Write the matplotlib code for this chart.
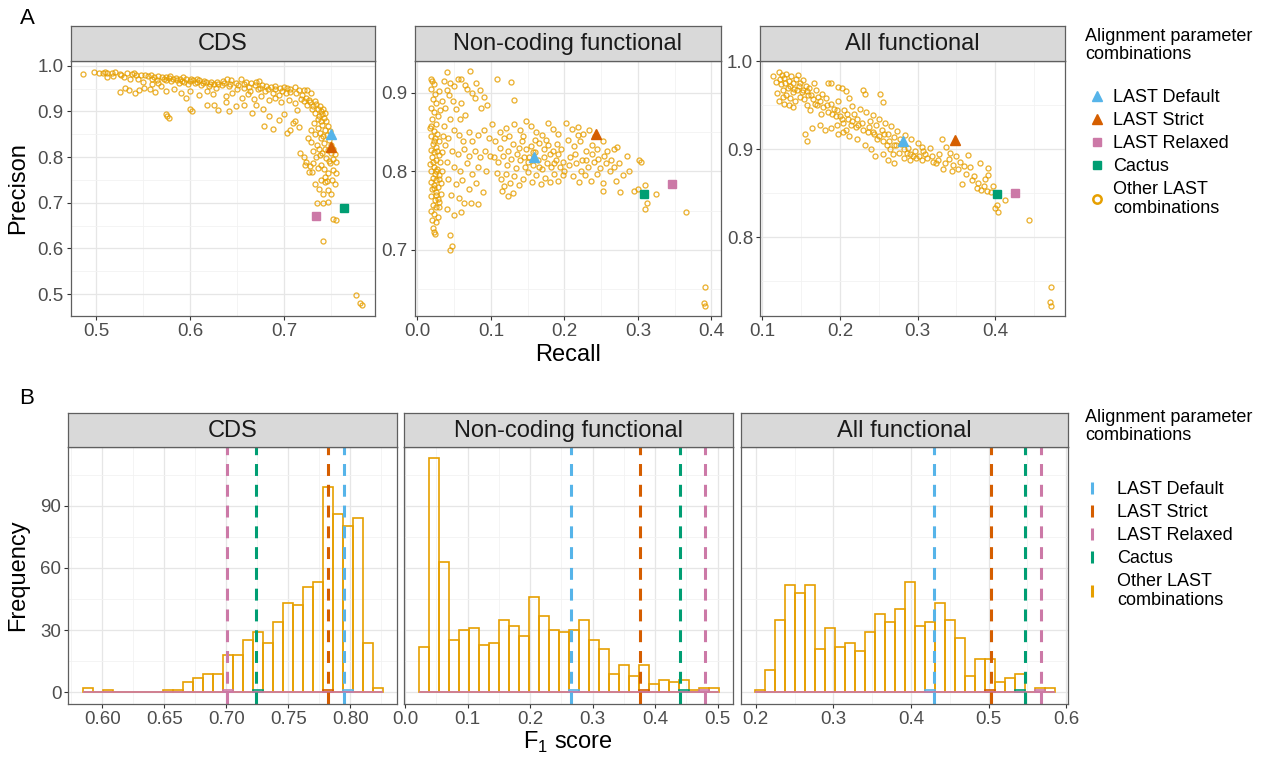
import matplotlib
matplotlib.use('Agg')
import matplotlib.pyplot as plt
from matplotlib.lines import Line2D
from matplotlib.ticker import MultipleLocator, FormatStrFormatter
import numpy as np

plt.rcParams['font.family'] = ['Liberation Sans', 'DejaVu Sans']
plt.rcParams['mathtext.fontset'] = 'custom'
plt.rcParams['mathtext.rm'] = 'Liberation Sans'

W, H = 1270, 759

# ---- data -------------------------------------------------------------
panel_names = ['CDS', 'Non-coding functional', 'All functional']
special_names = ['LAST Default', 'LAST Strict', 'LAST Relaxed', 'Cactus']
special_markers = ['^', '^', 's', 's']
special_colours = ['#56B4E9', '#D55E00', '#CC79A7', '#009E73']
other_colour = '#E69F00'

# recall / precision of the four named settings (order as special_names)
cds_special_recall = [0.750, 0.750, 0.734, 0.764]
cds_special_precision = [0.850, 0.822, 0.672, 0.688]
nc_special_recall = [0.159, 0.243, 0.346, 0.309]
nc_special_precision = [0.818, 0.848, 0.784, 0.771]
af_special_recall = [0.281, 0.348, 0.425, 0.402]
af_special_precision = [0.910, 0.911, 0.850, 0.849]

# other LAST combinations: (recall, precision)
cds_other = np.array([
    [0.486, 0.982], [0.498, 0.986], [0.503, 0.984], [0.507, 0.985], [0.510, 0.986],
    [0.512, 0.984], [0.517, 0.984], [0.520, 0.986], [0.525, 0.982], [0.527, 0.980],
    [0.533, 0.984], [0.538, 0.982], [0.540, 0.985], [0.543, 0.979], [0.548, 0.980],
    [0.552, 0.979], [0.555, 0.977], [0.559, 0.979], [0.562, 0.976], [0.566, 0.977],
    [0.570, 0.975], [0.574, 0.976], [0.578, 0.973], [0.582, 0.971], [0.585, 0.974],
    [0.589, 0.970], [0.593, 0.975], [0.596, 0.971], [0.600, 0.967], [0.603, 0.969],
    [0.607, 0.965], [0.610, 0.968], [0.614, 0.962], [0.617, 0.965], [0.622, 0.964],
    [0.626, 0.961], [0.630, 0.959], [0.635, 0.966], [0.639, 0.971], [0.644, 0.968],
    [0.649, 0.962], [0.654, 0.970], [0.660, 0.965], [0.665, 0.962], [0.670, 0.964],
    [0.674, 0.966], [0.677, 0.958], [0.681, 0.955], [0.686, 0.954], [0.691, 0.955],
    [0.696, 0.951], [0.700, 0.954], [0.703, 0.952], [0.707, 0.950], [0.712, 0.953],
    [0.716, 0.947], [0.721, 0.946], [0.725, 0.947], [0.729, 0.940],
    [0.575, 0.968], [0.580, 0.966], [0.588, 0.963], [0.592, 0.966], [0.598, 0.960],
    [0.605, 0.962], [0.612, 0.958], [0.620, 0.956], [0.628, 0.952], [0.634, 0.957],
    [0.642, 0.955], [0.650, 0.948], [0.658, 0.952], [0.664, 0.945], [0.672, 0.948],
    [0.680, 0.944], [0.688, 0.940], [0.695, 0.936], [0.702, 0.940],
    [0.526, 0.943], [0.531, 0.951], [0.535, 0.947], [0.541, 0.940], [0.546, 0.946],
    [0.551, 0.952], [0.557, 0.948], [0.563, 0.943], [0.569, 0.955], [0.575, 0.945],
    [0.583, 0.950], [0.590, 0.941], [0.600, 0.944], [0.610, 0.936], [0.618, 0.945],
    [0.625, 0.938], [0.638, 0.933], [0.645, 0.940], [0.655, 0.930], [0.662, 0.937],
    [0.668, 0.928], [0.676, 0.933], [0.684, 0.925], [0.690, 0.930], [0.697, 0.920],
    [0.705, 0.925], [0.712, 0.918], [0.718, 0.928],
    [0.574, 0.894], [0.578, 0.886], [0.576, 0.889], [0.596, 0.929], [0.600, 0.906],
    [0.602, 0.901], [0.618, 0.914], [0.626, 0.914], [0.630, 0.902], [0.638, 0.921],
    [0.642, 0.900], [0.649, 0.911], [0.658, 0.913], [0.666, 0.897], [0.670, 0.914],
    [0.679, 0.868], [0.678, 0.905], [0.684, 0.889], [0.688, 0.861], [0.695, 0.882],
    [0.703, 0.853], [0.700, 0.894], [0.707, 0.860], [0.710, 0.875], [0.712, 0.880],
    [0.716, 0.866], [0.714, 0.903],
    [0.721, 0.922], [0.725, 0.915], [0.728, 0.920], [0.731, 0.912], [0.734, 0.917],
    [0.730, 0.905], [0.736, 0.906], [0.739, 0.900], [0.733, 0.896], [0.741, 0.894],
    [0.737, 0.889], [0.743, 0.886], [0.739, 0.880], [0.745, 0.878], [0.732, 0.875],
    [0.741, 0.871], [0.747, 0.868], [0.736, 0.864], [0.744, 0.860], [0.749, 0.857],
    [0.738, 0.853], [0.746, 0.849], [0.740, 0.842], [0.748, 0.838], [0.726, 0.842],
    [0.729, 0.833], [0.735, 0.827], [0.743, 0.830], [0.750, 0.826], [0.737, 0.818],
    [0.747, 0.815], [0.752, 0.818], [0.731, 0.813], [0.741, 0.808], [0.750, 0.808],
    [0.754, 0.806], [0.734, 0.800], [0.745, 0.798], [0.752, 0.795], [0.739, 0.782],
    [0.749, 0.786], [0.755, 0.789], [0.743, 0.774], [0.752, 0.771], [0.747, 0.765],
    [0.755, 0.765], [0.739, 0.749], [0.746, 0.748], [0.751, 0.750],
    [0.717, 0.808], [0.721, 0.800], [0.724, 0.790], [0.728, 0.780], [0.731, 0.786],
    [0.730, 0.768], [0.733, 0.742], [0.744, 0.746], [0.737, 0.731], [0.747, 0.728],
    [0.742, 0.720], [0.750, 0.720], [0.735, 0.700], [0.742, 0.700], [0.747, 0.702],
    [0.752, 0.664], [0.755, 0.662], [0.742, 0.617], [0.735, 0.669],
    [0.777, 0.497], [0.781, 0.480], [0.783, 0.476],
    [0.560, 0.972], [0.565, 0.969], [0.572, 0.971], [0.579, 0.977], [0.586, 0.968],
    [0.594, 0.964], [0.601, 0.972], [0.608, 0.970], [0.615, 0.967], [0.621, 0.960],
    [0.629, 0.964], [0.636, 0.962], [0.643, 0.960], [0.651, 0.957], [0.657, 0.960],
    [0.663, 0.954], [0.669, 0.957], [0.675, 0.952], [0.683, 0.950], [0.690, 0.948],
    [0.698, 0.945], [0.706, 0.943], [0.713, 0.940], [0.719, 0.936], [0.724, 0.930],
    [0.727, 0.925], [0.733, 0.923], [0.738, 0.912], [0.742, 0.905], [0.744, 0.897],
    [0.736, 0.884], [0.729, 0.860], [0.733, 0.850], [0.742, 0.846], [0.744, 0.818],
    [0.738, 0.805], [0.748, 0.792], [0.736, 0.776], [0.744, 0.757], [0.754, 0.740],
    [0.727, 0.768], [0.722, 0.783], [0.512, 0.976], [0.518, 0.978], [0.530, 0.975],
    [0.536, 0.972], [0.545, 0.970], [0.550, 0.965], [0.560, 0.960], [0.566, 0.962],
])

nc_other = np.array([
    [0.018, 0.917], [0.020, 0.915], [0.022, 0.911], [0.019, 0.905], [0.024, 0.898],
    [0.021, 0.892], [0.026, 0.887], [0.018, 0.880], [0.023, 0.875], [0.028, 0.871],
    [0.020, 0.866], [0.025, 0.860], [0.017, 0.855], [0.022, 0.851], [0.027, 0.848],
    [0.019, 0.845], [0.024, 0.842], [0.030, 0.838], [0.021, 0.835], [0.026, 0.831],
    [0.018, 0.827], [0.023, 0.824], [0.029, 0.821], [0.020, 0.818], [0.025, 0.815],
    [0.031, 0.812], [0.017, 0.809], [0.022, 0.806], [0.027, 0.803], [0.019, 0.800],
    [0.024, 0.797], [0.030, 0.795], [0.021, 0.792], [0.026, 0.789], [0.018, 0.786],
    [0.023, 0.783], [0.028, 0.780], [0.020, 0.777], [0.025, 0.774], [0.032, 0.771],
    [0.019, 0.768], [0.024, 0.764], [0.029, 0.761], [0.021, 0.757], [0.026, 0.754],
    [0.018, 0.750], [0.023, 0.746], [0.028, 0.742], [0.020, 0.738], [0.025, 0.735],
    [0.021, 0.728], [0.022, 0.723], [0.024, 0.720],
    [0.041, 0.926], [0.036, 0.915], [0.045, 0.912], [0.040, 0.904], [0.050, 0.908],
    [0.055, 0.917], [0.060, 0.918], [0.065, 0.910], [0.072, 0.927], [0.068, 0.905],
    [0.075, 0.899], [0.080, 0.912], [0.085, 0.903], [0.078, 0.893], [0.090, 0.895],
    [0.095, 0.884], [0.086, 0.880], [0.043, 0.897], [0.048, 0.889], [0.038, 0.880],
    [0.053, 0.879], [0.060, 0.887], [0.065, 0.872], [0.058, 0.866], [0.045, 0.867],
    [0.036, 0.858], [0.050, 0.852], [0.042, 0.843], [0.056, 0.846], [0.062, 0.838],
    [0.070, 0.850], [0.075, 0.839], [0.082, 0.846], [0.090, 0.853], [0.097, 0.842],
    [0.038, 0.833], [0.047, 0.826], [0.055, 0.822], [0.063, 0.828], [0.070, 0.820],
    [0.078, 0.826], [0.085, 0.818], [0.092, 0.826], [0.099, 0.820], [0.040, 0.812],
    [0.050, 0.806], [0.058, 0.801], [0.067, 0.810], [0.074, 0.797], [0.083, 0.806],
    [0.094, 0.800], [0.042, 0.790], [0.052, 0.784], [0.061, 0.789], [0.070, 0.778],
    [0.080, 0.785], [0.089, 0.774], [0.046, 0.770], [0.056, 0.766], [0.064, 0.760],
    [0.073, 0.760], [0.082, 0.758], [0.040, 0.752], [0.050, 0.744], [0.060, 0.748],
    [0.047, 0.705], [0.045, 0.700], [0.044, 0.719],
    [0.102, 0.860], [0.108, 0.918], [0.113, 0.850], [0.120, 0.855], [0.128, 0.913],
    [0.131, 0.891], [0.125, 0.845], [0.132, 0.860], [0.140, 0.853], [0.148, 0.864],
    [0.155, 0.858], [0.162, 0.850], [0.170, 0.846], [0.178, 0.862], [0.185, 0.854],
    [0.192, 0.848], [0.105, 0.838], [0.112, 0.830], [0.118, 0.842], [0.124, 0.826],
    [0.130, 0.835], [0.136, 0.822], [0.142, 0.838], [0.148, 0.828], [0.154, 0.832],
    [0.160, 0.824], [0.166, 0.836], [0.172, 0.828], [0.178, 0.834], [0.184, 0.826],
    [0.190, 0.835], [0.196, 0.828], [0.104, 0.818], [0.110, 0.812], [0.116, 0.820],
    [0.122, 0.808], [0.128, 0.816], [0.134, 0.804], [0.140, 0.814], [0.146, 0.806],
    [0.152, 0.818], [0.158, 0.808], [0.164, 0.814], [0.170, 0.803], [0.176, 0.811],
    [0.182, 0.805], [0.188, 0.815], [0.194, 0.806], [0.108, 0.798], [0.114, 0.790],
    [0.120, 0.796], [0.126, 0.785], [0.132, 0.794], [0.138, 0.782], [0.144, 0.790],
    [0.150, 0.799], [0.156, 0.786], [0.162, 0.795], [0.168, 0.784], [0.174, 0.792],
    [0.180, 0.786], [0.186, 0.796], [0.192, 0.788], [0.198, 0.795], [0.115, 0.775],
    [0.123, 0.768], [0.118, 0.781], [0.130, 0.772],
    [0.202, 0.862], [0.210, 0.854], [0.218, 0.857], [0.226, 0.848], [0.234, 0.852],
    [0.205, 0.840], [0.213, 0.832], [0.221, 0.838], [0.229, 0.826], [0.237, 0.834],
    [0.245, 0.828], [0.252, 0.838], [0.258, 0.826], [0.264, 0.815], [0.208, 0.818],
    [0.216, 0.810], [0.224, 0.815], [0.232, 0.806], [0.240, 0.812], [0.248, 0.804],
    [0.256, 0.810], [0.262, 0.800], [0.268, 0.806], [0.275, 0.810], [0.280, 0.795],
    [0.212, 0.794], [0.220, 0.786], [0.228, 0.795], [0.236, 0.788], [0.244, 0.796],
    [0.252, 0.785], [0.270, 0.788], [0.285, 0.820], [0.288, 0.800], [0.295, 0.775],
    [0.300, 0.777], [0.302, 0.814], [0.304, 0.812], [0.310, 0.783], [0.312, 0.760],
    [0.310, 0.752], [0.325, 0.771], [0.365, 0.748], [0.392, 0.653], [0.390, 0.633],
    [0.391, 0.629], [0.267, 0.828], [0.271, 0.831], [0.253, 0.775], [0.276, 0.774],
    [0.019, 0.858], [0.023, 0.838], [0.027, 0.826], [0.021, 0.812], [0.025, 0.801],
    [0.029, 0.790], [0.022, 0.779], [0.026, 0.770], [0.030, 0.755], [0.033, 0.800],
    [0.034, 0.825], [0.035, 0.845], [0.032, 0.785], [0.028, 0.765], [0.031, 0.878],
    [0.033, 0.890], [0.029, 0.902],
    [0.145, 0.818], [0.150, 0.812], [0.158, 0.825], [0.165, 0.805], [0.172, 0.818],
    [0.180, 0.822], [0.186, 0.810], [0.192, 0.822], [0.198, 0.812], [0.138, 0.830],
    [0.144, 0.845], [0.160, 0.840], [0.175, 0.840], [0.200, 0.800], [0.206, 0.808],
    [0.214, 0.822], [0.222, 0.800], [0.230, 0.815], [0.238, 0.822], [0.246, 0.816],
    [0.254, 0.820], [0.218, 0.846], [0.242, 0.845],
])

af_other = np.array([
    [0.114, 0.983], [0.121, 0.988], [0.125, 0.985], [0.128, 0.981], [0.131, 0.986],
    [0.134, 0.978], [0.137, 0.983], [0.140, 0.975], [0.143, 0.980], [0.146, 0.984],
    [0.149, 0.976], [0.152, 0.979], [0.156, 0.972], [0.124, 0.974], [0.127, 0.968],
    [0.130, 0.962], [0.133, 0.970], [0.136, 0.958], [0.139, 0.965], [0.142, 0.955],
    [0.145, 0.968], [0.148, 0.960], [0.151, 0.965], [0.154, 0.957], [0.157, 0.966],
    [0.160, 0.970], [0.163, 0.962], [0.166, 0.975], [0.169, 0.968], [0.172, 0.960],
    [0.122, 0.955], [0.128, 0.952], [0.134, 0.950], [0.140, 0.948], [0.126, 0.960],
    [0.119, 0.964], [0.158, 0.950], [0.162, 0.945], [0.168, 0.952], [0.174, 0.955],
    [0.178, 0.948], [0.182, 0.958], [0.185, 0.943], [0.188, 0.952], [0.176, 0.940],
    [0.192, 0.946], [0.195, 0.938], [0.198, 0.955], [0.185, 0.976], [0.189, 0.975],
    [0.197, 0.971], [0.202, 0.970], [0.208, 0.966], [0.212, 0.958], [0.215, 0.949],
    [0.218, 0.940], [0.222, 0.935], [0.226, 0.946], [0.230, 0.967], [0.232, 0.963],
    [0.234, 0.942], [0.238, 0.932], [0.242, 0.939], [0.246, 0.928], [0.250, 0.935],
    [0.252, 0.963], [0.256, 0.954], [0.254, 0.922], [0.258, 0.930], [0.262, 0.918],
    [0.266, 0.927], [0.270, 0.914], [0.274, 0.921], [0.278, 0.906], [0.284, 0.916],
    [0.288, 0.902], [0.292, 0.912], [0.296, 0.898], [0.300, 0.907], [0.302, 0.893],
    [0.306, 0.903], [0.205, 0.945], [0.210, 0.935], [0.214, 0.928], [0.220, 0.925],
    [0.228, 0.930], [0.236, 0.920], [0.244, 0.917], [0.248, 0.912], [0.256, 0.910],
    [0.260, 0.905], [0.264, 0.900], [0.268, 0.895], [0.272, 0.905], [0.276, 0.896],
    [0.282, 0.890], [0.286, 0.896], [0.290, 0.888], [0.294, 0.893], [0.204, 0.930],
    [0.208, 0.922], [0.200, 0.938], [0.196, 0.928],
    [0.155, 0.918], [0.157, 0.910], [0.164, 0.924], [0.174, 0.928], [0.181, 0.922],
    [0.189, 0.924], [0.198, 0.918], [0.204, 0.920], [0.212, 0.915], [0.222, 0.912],
    [0.232, 0.905], [0.240, 0.900], [0.245, 0.892], [0.255, 0.895], [0.262, 0.888],
    [0.270, 0.884],
    [0.307, 0.898], [0.312, 0.890], [0.316, 0.901], [0.320, 0.886], [0.324, 0.884],
    [0.328, 0.895], [0.331, 0.912], [0.333, 0.878], [0.337, 0.903], [0.340, 0.889],
    [0.342, 0.896], [0.344, 0.875], [0.350, 0.892], [0.354, 0.886], [0.357, 0.861],
    [0.360, 0.881], [0.365, 0.894], [0.367, 0.880], [0.372, 0.870], [0.376, 0.856],
    [0.380, 0.885], [0.382, 0.854], [0.387, 0.866], [0.389, 0.853], [0.390, 0.879],
    [0.391, 0.871], [0.397, 0.858], [0.400, 0.833], [0.402, 0.837], [0.404, 0.829],
    [0.412, 0.842], [0.443, 0.820], [0.472, 0.743], [0.471, 0.727], [0.472, 0.722],
    [0.118, 0.977], [0.123, 0.980], [0.129, 0.975], [0.135, 0.972], [0.141, 0.969],
    [0.147, 0.972], [0.153, 0.968], [0.159, 0.962], [0.165, 0.957], [0.171, 0.950],
    [0.177, 0.963], [0.183, 0.950], [0.190, 0.940], [0.196, 0.945], [0.202, 0.935],
    [0.209, 0.940], [0.216, 0.932], [0.223, 0.928], [0.230, 0.922], [0.237, 0.926],
    [0.243, 0.920], [0.250, 0.915], [0.257, 0.918], [0.263, 0.910], [0.270, 0.905],
    [0.277, 0.912], [0.283, 0.900], [0.290, 0.895], [0.298, 0.890], [0.305, 0.888],
    [0.310, 0.895], [0.318, 0.893], [0.326, 0.888], [0.335, 0.885], [0.346, 0.882],
    [0.352, 0.878], [0.362, 0.872], [0.370, 0.865], [0.378, 0.862], [0.385, 0.858],
    [0.395, 0.852],
])

# F1 score histograms: 30 bins between first and last edge
cds_bin_range = (0.5847, 0.8265)
cds_counts = [2, 0, 1, 0, 0, 0, 0, 0, 1, 1, 5, 7, 9, 9, 18, 18, 25, 29, 24, 34,
              43, 42, 51, 53, 99, 86, 80, 84, 24, 2]
nc_bin_range = (0.0227, 0.5027)
nc_counts = [22, 113, 63, 25, 30, 31, 23, 24, 35, 32, 27, 46, 37, 30, 29, 30, 35,
             25, 21, 9, 13, 8, 13, 4, 6, 5, 6, 1, 2, 2]
af_bin_range = (0.1991, 0.5859)
af_counts = [1, 11, 35, 52, 48, 52, 21, 31, 22, 24, 20, 29, 38, 34, 40, 53, 32, 34,
             43, 35, 26, 8, 16, 16, 5, 7, 9, 0, 2, 2]
# F1 of the four named settings (order as special_names)
cds_special_f1 = [0.7946, 0.7823, 0.7008, 0.7239]
nc_special_f1 = [0.2648, 0.3763, 0.4797, 0.4403]
af_special_f1 = [0.4303, 0.5030, 0.5679, 0.5468]

# ---- layout -------------------------------------------------------------
fig = plt.figure(figsize=(W / 100, H / 100), dpi=100)


def px_rect(l, t, r, b):
    return [l / W, 1 - b / H, (r - l) / W, (b - t) / H]


border = '#5F5F5F'


def style_axes(ax, xmaj, xmin, ymaj, ymin, xfmt, yfmt, show_y=True):
    ax.set_axisbelow(True)
    ax.xaxis.set_major_locator(MultipleLocator(xmaj))
    ax.xaxis.set_minor_locator(MultipleLocator(xmin))
    ax.yaxis.set_major_locator(MultipleLocator(ymaj))
    ax.yaxis.set_minor_locator(MultipleLocator(ymin))
    ax.xaxis.set_major_formatter(FormatStrFormatter(xfmt))
    ax.yaxis.set_major_formatter(FormatStrFormatter(yfmt))
    ax.grid(which='major', color='#E6E6E6', lw=0.9)
    ax.grid(which='minor', color='#F2F2F2', lw=0.6)
    ax.tick_params(which='major', length=3, width=0.8, color='#333333',
                   labelsize=13.5, labelcolor='#4D4D4D', pad=2)
    ax.tick_params(which='minor', length=0)
    if not show_y:
        ax.tick_params(axis='y', which='major', length=0, labelleft=False)
    for sp in ax.spines.values():
        sp.set_color(border)
        sp.set_linewidth(0.9)


def add_strip(l, r, t, b, label):
    s = fig.add_axes(px_rect(l, t, r, b))
    s.set_facecolor('#D9D9D9')
    s.set_xticks([])
    s.set_yticks([])
    for sp in s.spines.values():
        sp.set_color(border)
        sp.set_linewidth(0.9)
    s.text(0.5, 0.47, label, ha='center', va='center', fontsize=17,
           color='#1A1A1A', transform=s.transAxes)


# panel A: precision vs recall
a_cols = [(70.7, 375), (414.7, 720.7), (760, 1065)]
a_top, a_bot, a_strip = 60.7, 316, 26
a_xlims = [(0.473, 0.797), (-0.0036, 0.4127), (0.097, 0.4897)]
a_ylims = [(0.452, 1.011), (0.616, 0.9407), (0.7106, 1.0008)]
a_other = [cds_other, nc_other, af_other]
a_rec = [cds_special_recall, nc_special_recall, af_special_recall]
a_prec = [cds_special_precision, nc_special_precision, af_special_precision]

for i, (l, r) in enumerate(a_cols):
    ax = fig.add_axes(px_rect(l, a_top, r, a_bot))
    pts = a_other[i]
    ax.plot(pts[:, 0], pts[:, 1], 'o', ls='none', ms=3.6, mfc='none',
            mec=other_colour, mew=0.95, alpha=0.8)
    for mk, col, rx, py in zip(special_markers, special_colours, a_rec[i], a_prec[i]):
        ax.plot(rx, py, mk, ls='none', ms=7.5 if mk == '^' else 6, color=col)
    ax.set_xlim(a_xlims[i])
    ax.set_ylim(a_ylims[i])
    style_axes(ax, 0.1, 0.05, 0.1, 0.05, '%.1f', '%.1f')
    add_strip(l, r, a_strip, a_top, panel_names[i])

# panel B: F1 histograms
b_cols = [(68.3, 397.3), (404.3, 732.7), (741, 1068.3)]
b_top, b_bot, b_strip = 446.7, 704, 413.3
b_xlims = [(0.5726, 0.8379), (-0.0014, 0.524), (0.181, 0.6028)]
b_xticks = [(0.05, 0.025, '%.2f'), (0.1, 0.05, '%.1f'), (0.1, 0.05, '%.1f')]
b_ranges = [cds_bin_range, nc_bin_range, af_bin_range]
b_counts = [cds_counts, nc_counts, af_counts]
b_f1 = [cds_special_f1, nc_special_f1, af_special_f1]

for i, (l, r) in enumerate(b_cols):
    ax = fig.add_axes(px_rect(l, b_top, r, b_bot))
    counts = b_counts[i]
    edges = np.linspace(b_ranges[i][0], b_ranges[i][1], len(counts) + 1)
    ax.bar(edges[:-1], counts, width=np.diff(edges), align='edge', fill=False,
           edgecolor=other_colour, linewidth=1.2)
    ax.hlines(0, edges[0], edges[-1], color=special_colours[2], lw=1.2)
    for col, v in zip(special_colours, b_f1[i]):
        k = np.searchsorted(edges, v) - 1
        ax.bar(edges[k], 1, width=edges[k + 1] - edges[k], align='edge',
               fill=False, edgecolor=col, linewidth=1.2)
        ax.axvline(v, color=col, lw=2.2, dashes=(3.9, 2.9))
    ax.set_xlim(b_xlims[i])
    ax.set_ylim(-5.64, 118.5)
    xmaj, xmin, xfmt = b_xticks[i]
    style_axes(ax, xmaj, xmin, 30, 15, xfmt, '%d', show_y=(i == 0))
    add_strip(l, r, b_strip, b_top, panel_names[i])

# axis titles and panel letters
fig.text(18 / W, 1 - 188 / H, 'Precison', rotation=90, ha='center', va='center', fontsize=17)
fig.text(568 / W, 1 - 355 / H, 'Recall', ha='center', va='center', fontsize=17)
fig.text(18 / W, 1 - 575 / H, 'Frequency', rotation=90, ha='center', va='center', fontsize=17)
fig.text(568 / W, 1 - 742 / H, r'F$_\mathregular{1}$ score', ha='center', va='center', fontsize=17)
fig.text(27 / W, 1 - 18 / H, 'A', ha='center', va='center', fontsize=16)
fig.text(27 / W, 1 - 398 / H, 'B', ha='center', va='center', fontsize=16)

# legends
legend_title = 'Alignment parameter\ncombinations'
legend_labels = special_names + ['Other LAST\ncombinations']

fig.text(1085 / W, 1 - 28 / H, legend_title, ha='left', va='top', fontsize=13, linespacing=1.1)
a_handles = [Line2D([], [], marker=mk, ls='none', color=c, ms=7.5 if mk == '^' else 6)
             for mk, c in zip(special_markers, special_colours)]
a_handles.append(Line2D([], [], marker='o', ls='none', ms=6, mfc='white',
                        mec=other_colour, mew=1.8))
leg = fig.legend(a_handles, legend_labels, loc='upper left',
                 bbox_to_anchor=(1088 / W, 1 - 89 / H), frameon=False, fontsize=13,
                 handlelength=1.0, handletextpad=0.4, labelspacing=0.33,
                 borderpad=0, borderaxespad=0)
for t in leg.get_texts():
    t.set_linespacing(1.15)

fig.text(1085 / W, 1 - 409 / H, legend_title, ha='left', va='top', fontsize=13, linespacing=1.1)
b_handles = [Line2D([], [], marker='|', ls='none', color=c, ms=8, mew=2.2)
             for c in special_colours + [other_colour]]
leg = fig.legend(b_handles, legend_labels, loc='upper left',
                 bbox_to_anchor=(1083 / W, 1 - 481 / H), frameon=False, fontsize=13,
                 handlelength=1.0, handletextpad=0.9, labelspacing=0.33,
                 borderpad=0, borderaxespad=0)
for t in leg.get_texts():
    t.set_linespacing(1.15)

fig.savefig('out.png', dpi=100)
